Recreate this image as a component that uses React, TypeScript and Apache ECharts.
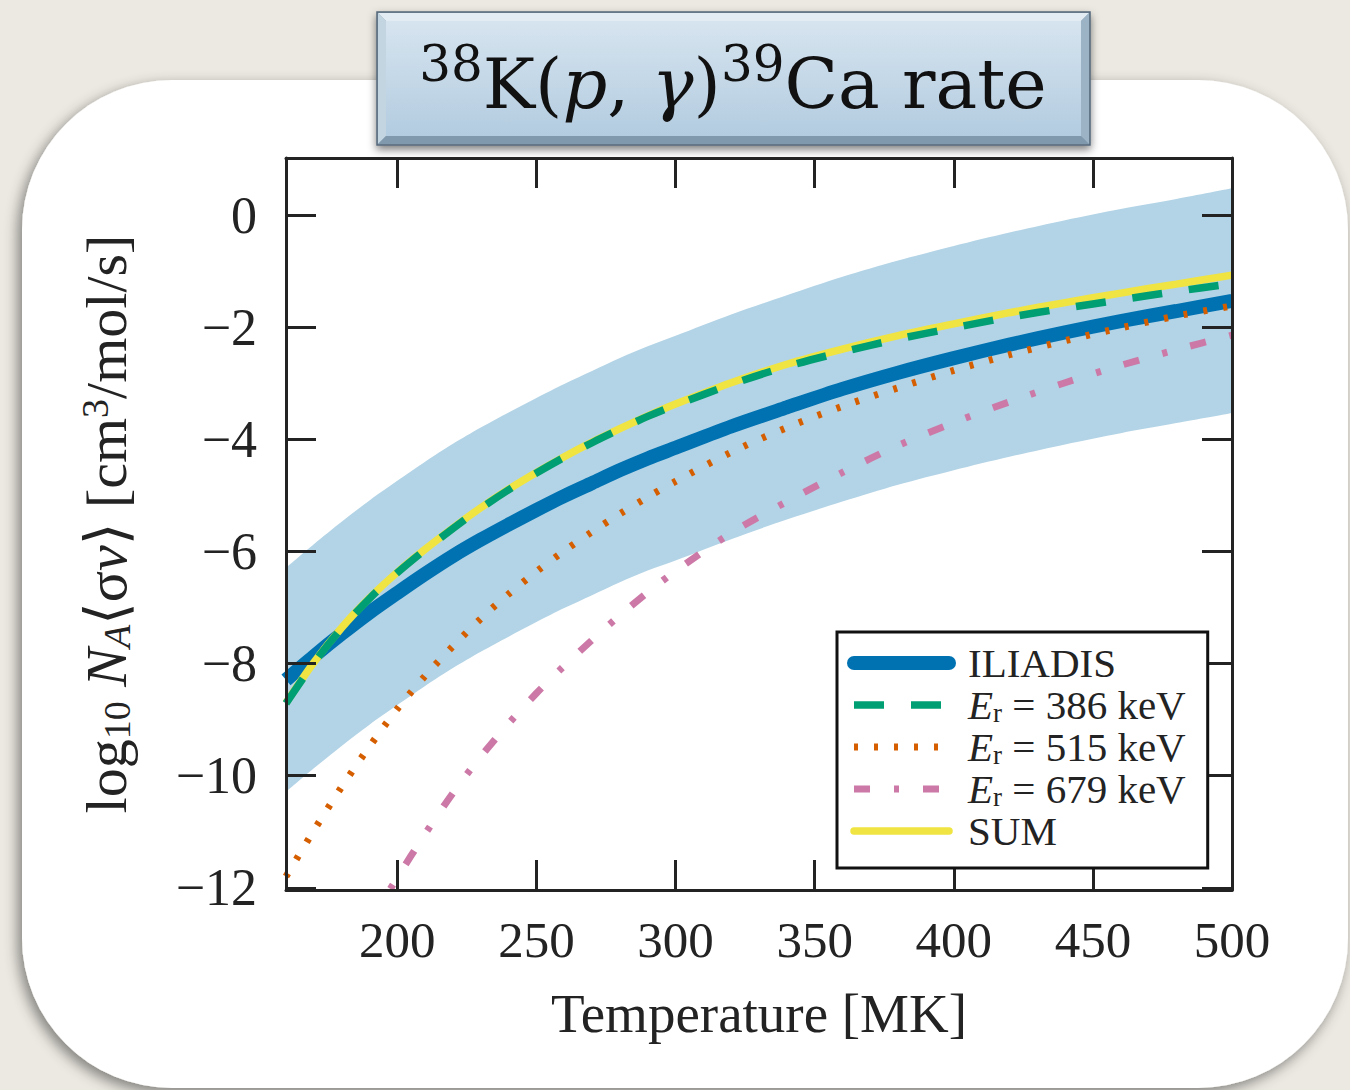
import React, { useEffect, useRef } from "react";
import * as echarts from "echarts";

const SERIF = "'Liberation Serif', 'DejaVu Serif', 'Times New Roman', serif";
const TITLE_FONT = "'DejaVu Serif', 'Liberation Serif', serif";

// Temperature grid (MK)
const temperatureMK = [160, 170, 180, 190, 200, 210, 220, 230, 240, 250, 260, 270, 280, 290, 300, 320, 340, 360, 380, 400, 420, 440, 460, 480, 500];

// log10 rates
const bandUpper = [-6.29, -5.87, -5.47, -5.09, -4.74, -4.4, -4.08, -3.79, -3.52, -3.26, -3.01, -2.78, -2.55, -2.34, -2.15, -1.77, -1.43, -1.1, -0.81, -0.55, -0.31, -0.09, 0.11, 0.29, 0.48];
const bandLower = [-10.29, -9.87, -9.47, -9.09, -8.74, -8.4, -8.08, -7.79, -7.52, -7.26, -7.01, -6.78, -6.55, -6.34, -6.16, -5.78, -5.43, -5.11, -4.81, -4.55, -4.31, -4.09, -3.89, -3.71, -3.53];
const iliadisRate = [-8.29, -7.87, -7.47, -7.09, -6.74, -6.4, -6.08, -5.79, -5.52, -5.26, -5.01, -4.78, -4.55, -4.34, -4.15, -3.77, -3.43, -3.1, -2.81, -2.55, -2.31, -2.09, -1.89, -1.71, -1.53];
const sumRate = [-8.7, -7.98, -7.36, -6.83, -6.37, -5.96, -5.58, -5.22, -4.89, -4.59, -4.31, -4.05, -3.81, -3.58, -3.37, -2.99, -2.66, -2.39, -2.15, -1.94, -1.74, -1.56, -1.39, -1.23, -1.07];
const er386Rate = [-8.71, -7.99, -7.37, -6.84, -6.38, -5.97, -5.59, -5.23, -4.9, -4.6, -4.32, -4.06, -3.82, -3.59, -3.39, -3.02, -2.7, -2.44, -2.21, -2.01, -1.82, -1.66, -1.51, -1.36, -1.22];
const er515Rate = [-11.8, -10.98, -10.2, -9.48, -8.81, -8.22, -7.69, -7.2, -6.76, -6.36, -5.99, -5.65, -5.33, -5.03, -4.75, -4.23, -3.79, -3.41, -3.08, -2.77, -2.49, -2.24, -2.01, -1.8, -1.62];
const er679Rate = [null, null, null, -12.63, -11.82, -11.04, -10.31, -9.66, -9.07, -8.53, -8.04, -7.58, -7.14, -6.73, -6.35, -5.67, -5.11, -4.59, -4.11, -3.7, -3.33, -2.99, -2.68, -2.4, -2.14];

const xTickValues = [200, 250, 300, 350, 400, 450, 500];
const yTickValues = [-12, -10, -8, -6, -4, -2, 0];

const SERIES_NAMES = {
  iliadis: "ILIADIS",
  er386: "Er = 386 keV",
  er515: "Er = 515 keV",
  er679: "Er = 679 keV",
  sum: "SUM",
};
const legendOrder = [SERIES_NAMES.iliadis, SERIES_NAMES.er386, SERIES_NAMES.er515, SERIES_NAMES.er679, SERIES_NAMES.sum];
const roundCapLegend = [SERIES_NAMES.iliadis, SERIES_NAMES.sum];

const toPairs = (ys: (number | null)[]) =>
  temperatureMK.map((t, i) => [t, ys[i]]).filter((p) => p[1] !== null);

const AXIS_COLOR = "#232323";
const BAND_COLOR = "#b3d4e6";

function buildOption(): any {
  const axisLine = { show: true, onZero: false, lineStyle: { color: AXIS_COLOR, width: 3 } };
  const tickX = { show: true, inside: true, length: 30, customValues: xTickValues, lineStyle: { color: AXIS_COLOR, width: 3 } };
  const tickY = { show: true, inside: true, length: 30, customValues: yTickValues, lineStyle: { color: AXIS_COLOR, width: 3 } };

  const lineBase = { type: "line", smooth: 0.3, symbol: "none", showSymbol: false, silent: true, clip: true };

  return {
    animation: false,
    backgroundColor: "#ece9e2",
    graphic: [
      {
        type: "rect",
        z: -10,
        silent: true,
        shape: { x: 22, y: 80, width: 1326, height: 1008, r: 150 },
        style: { fill: "#ffffff", shadowBlur: 14, shadowOffsetX: -4, shadowOffsetY: 5, shadowColor: "rgba(0,0,0,0.45)" },
      },
      {
        type: "group",
        z: 20,
        silent: true,
        children: [
          {
            type: "rect",
            shape: { x: 377, y: 12, width: 713, height: 133 },
            style: { fill: "#8ea7ba", stroke: "#55687a", lineWidth: 1.5, shadowBlur: 8, shadowOffsetY: 4, shadowColor: "rgba(0,0,0,0.5)" },
          },
          { type: "polygon", shape: { points: [[378, 13], [1089, 13], [1081, 21], [386, 21]] }, style: { fill: "#e3ecf3" } },
          { type: "polygon", shape: { points: [[378, 13], [386, 21], [386, 136], [378, 144]] }, style: { fill: "#c4d5e2" } },
          { type: "polygon", shape: { points: [[1089, 13], [1089, 144], [1081, 136], [1081, 21]] }, style: { fill: "#9cb3c5" } },
          { type: "polygon", shape: { points: [[378, 144], [386, 136], [1081, 136], [1089, 144]] }, style: { fill: "#8199ad" } },
          {
            type: "rect",
            shape: { x: 386, y: 21, width: 695, height: 115 },
            style: {
              fill: new echarts.graphic.LinearGradient(0, 0, 0, 1, [
                { offset: 0, color: "#d6e4ef" },
                { offset: 1, color: "#b3cce0" },
              ]),
            },
          },
          {
            type: "text",
            style: {
              text: "{s|38}{n|K(}{i|p}{n|, }{i|γ}{n|)}{s|39}{n|Ca rate}",
              x: 733,
              y: 84,
              align: "center",
              verticalAlign: "middle",
              fill: "#111111",
              fontFamily: TITLE_FONT,
              fontSize: 70,
              rich: {
                n: { fontFamily: TITLE_FONT, fontSize: 70, lineHeight: 90, fill: "#111111" },
                i: { fontFamily: TITLE_FONT, fontSize: 70, lineHeight: 90, fontStyle: "italic", fill: "#111111" },
                s: { fontFamily: TITLE_FONT, fontSize: 50, lineHeight: 29, verticalAlign: "top", fill: "#111111" },
              },
            },
          },
        ],
      },
    ],
    grid: { left: 286, right: 118, top: 158, bottom: 200, containLabel: false, outerBoundsMode: "none" },
    xAxis: [
      {
        type: "value",
        position: "bottom",
        z: 10,
        min: 160,
        max: 500,
        axisLine,
        axisTick: tickX,
        splitLine: { show: false },
        axisLabel: {
          customValues: xTickValues,
          margin: 22,
          color: AXIS_COLOR,
          fontFamily: SERIF,
          fontSize: 51,
          lineHeight: 56,
        },
        name: "Temperature [MK]",
        nameLocation: "middle",
        nameGap: 93,
        nameTextStyle: { fontFamily: SERIF, fontSize: 55, lineHeight: 60, color: AXIS_COLOR },
      },
      {
        type: "value",
        position: "top",
        z: 10,
        min: 160,
        max: 500,
        axisLine,
        axisTick: tickX,
        splitLine: { show: false },
        axisLabel: { show: false },
      },
    ],
    yAxis: [
      {
        type: "value",
        position: "left",
        z: 10,
        min: -12.04,
        max: 1.02,
        axisLine,
        axisTick: tickY,
        splitLine: { show: false },
        axisLabel: {
          customValues: yTickValues,
          margin: 29,
          color: AXIS_COLOR,
          fontFamily: SERIF,
          fontSize: 52,
          lineHeight: 56,
          formatter: (v: number) => String(v).replace("-", "\u2212"),
        },
        name: "{n|log}{sub|10}{n| }{i|N}{isub|A}{n|⟨σ}{i|v}{n|⟩ [cm}{sup|3}{n|/mol/s]}",
        nameLocation: "middle",
        nameRotate: 90,
        nameGap: 150,
        nameTextStyle: {
          fontFamily: SERIF,
          fontSize: 58,
          lineHeight: 60,
          color: AXIS_COLOR,
          rich: {
            n: { fontFamily: SERIF, fontSize: 58, lineHeight: 60, color: AXIS_COLOR },
            i: { fontFamily: SERIF, fontSize: 58, lineHeight: 60, fontStyle: "italic", color: AXIS_COLOR },
            sub: { fontFamily: SERIF, fontSize: 38, lineHeight: 29, verticalAlign: "bottom", color: AXIS_COLOR },
            isub: { fontFamily: SERIF, fontSize: 38, lineHeight: 29, verticalAlign: "bottom", fontStyle: "italic", color: AXIS_COLOR },
            sup: { fontFamily: SERIF, fontSize: 38, lineHeight: 32, verticalAlign: "top", color: AXIS_COLOR },
          },
        },
      },
      {
        type: "value",
        position: "right",
        z: 10,
        min: -12.04,
        max: 1.02,
        axisLine,
        axisTick: tickY,
        splitLine: { show: false },
        axisLabel: { show: false },
      },
    ],
    legend: {
      orient: "vertical",
      left: 837,
      top: 632,
      z: 20,
      data: legendOrder.map((name) =>
        roundCapLegend.includes(name) ? { name, lineStyle: { cap: "round" } } : { name }
      ),
      selectedMode: false,
      itemWidth: 95,
      itemHeight: 14,
      itemGap: 0,
      padding: [10, 22, 16, 10],
      backgroundColor: "#ffffff",
      borderColor: "#111111",
      borderWidth: 3,
      borderRadius: 0,
      lineStyle: { width: "inherit" },
      itemStyle: { opacity: 0 },
      formatter: (name: string) =>
        name.startsWith("Er") ? `{i|E}{s|r}{n|${name.slice(2)}}` : `{n|${name}}`,
      textStyle: {
        fontFamily: SERIF,
        fontSize: 41,
        lineHeight: 42,
        color: AXIS_COLOR,
        padding: [0, 0, 0, 14],
        rich: {
          n: { fontFamily: SERIF, fontSize: 41, lineHeight: 42, color: AXIS_COLOR },
          i: { fontFamily: SERIF, fontSize: 41, lineHeight: 42, fontStyle: "italic", color: AXIS_COLOR },
          s: { fontFamily: SERIF, fontSize: 27, lineHeight: 20, verticalAlign: "bottom", color: AXIS_COLOR },
        },
      },
    },
    series: [
      {
        ...lineBase,
        name: "band upper",
        data: toPairs(bandUpper),
        itemStyle: { color: BAND_COLOR },
        lineStyle: { width: 0, color: BAND_COLOR },
        areaStyle: { color: BAND_COLOR, opacity: 1, origin: "start" },
      },
      {
        ...lineBase,
        name: "band lower",
        data: toPairs(bandLower),
        itemStyle: { color: "#ffffff" },
        lineStyle: { width: 0, color: "#ffffff" },
        areaStyle: { color: "#ffffff", opacity: 1, origin: "start" },
      },
      {
        ...lineBase,
        name: SERIES_NAMES.iliadis,
        data: toPairs(iliadisRate),
        itemStyle: { color: "#0072b2" },
        lineStyle: { color: "#0072b2", width: 14 },
      },
      {
        ...lineBase,
        name: SERIES_NAMES.sum,
        data: toPairs(sumRate),
        itemStyle: { color: "#f0e442" },
        lineStyle: { color: "#f0e442", width: 7.5 },
      },
      {
        ...lineBase,
        name: SERIES_NAMES.er386,
        data: toPairs(er386Rate),
        itemStyle: { color: "#009e73" },
        lineStyle: { color: "#009e73", width: 7.5, type: [30, 27] },
      },
      {
        ...lineBase,
        name: SERIES_NAMES.er515,
        data: toPairs(er515Rate),
        itemStyle: { color: "#d55e00" },
        lineStyle: { color: "#d55e00", width: 7, type: [4, 16] },
      },
      {
        ...lineBase,
        name: SERIES_NAMES.er679,
        data: toPairs(er679Rate),
        itemStyle: { color: "#cc79a7" },
        lineStyle: { color: "#cc79a7", width: 7, type: [16, 24, 5, 24] },
      },
    ],
  };
}

export default function App() {
  const ref = useRef<HTMLDivElement | null>(null);
  useEffect(() => {
    const el = ref.current;
    if (!el) return;
    const chart = echarts.init(el, null, { renderer: "svg" });
    chart.setOption(buildOption());
    return () => {
      chart.dispose();
    };
  }, []);
  return (
    <div
      ref={ref}
      style={{ position: "fixed", left: 0, top: 0, width: 1350, height: 1090 }}
    />
  );
}
